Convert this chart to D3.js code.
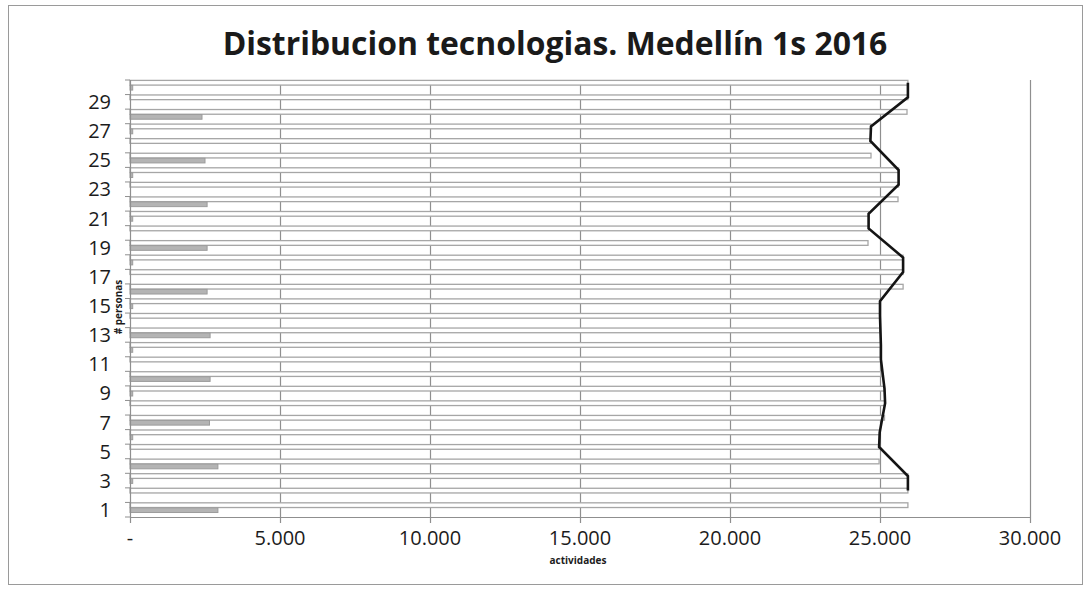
<!DOCTYPE html>
<html>
<head>
<meta charset="utf-8">
<script src="https://cdn.jsdelivr.net/npm/d3@7"></script>
<style>
  html, body { margin: 0; padding: 0; background: #fff; }
  svg { display: block; }
</style>
</head>
<body>
<svg id="chart" width="1088" height="589"></svg>
<script>
// ---------------- data ----------------
const title = "Distribucion tecnologias. Medellín 1s 2016";
const xTitle = "actividades";
const yTitle = "# personas";
const categories = d3.range(1, 31);                 // personas 1..30
// long white bars (total actividades)
const totalValues = [25930, 25930, 25930, 24970, 24970, 24990, 25150, 25170, 25150, 25030,
                     25030, 25030, 25000, 25000, 25000, 25770, 25770, 25770, 24600, 24620,
                     24620, 25600, 25620, 25620, 24700, 24680, 24700, 25900, 25930, 25930];
// short grey bars (tecnologías)
const partialValues = [2930, 0, 90, 2930, 0, 90, 2650, 0, 90, 2670,
                       0, 90, 2670, 0, 90, 2570, 0, 90, 2570, 0,
                       90, 2570, 0, 90, 2500, 0, 90, 2400, 0, 90];
// black line (null = no point)
const lineValues = [null, 25930, 25930, null, 24970, 24990, null, 25170, 25150, null,
                    25030, 25030, null, 25000, 25000, null, 25770, 25770, null, 24620,
                    24620, null, 25620, 25620, null, 24680, 24700, null, 25930, 25930];
const xTicks = [0, 5000, 10000, 15000, 20000, 25000, 30000];
const xTickLabels = ["-", "5.000", "10.000", "15.000", "20.000", "25.000", "30.000"];
const yLabelCats = categories.filter(c => c % 2 === 1);

// ---------------- layout ----------------
const svg = d3.select("#chart");
const W = 1088, H = 589;
const plot = { left: 130, right: 1030, top: 80, bottom: 517 };
const FONT = "'Open Sans', 'Noto Sans', sans-serif";
const textColor = "#1c1c1c";
const gridColor = "#8f8f8f";

// outer chart border
svg.append("rect").attr("x", 8.5).attr("y", 5.5).attr("width", W - 14).attr("height", H - 10)
  .attr("fill", "#fff").attr("stroke", "#9a9a9a").attr("stroke-width", 1);

const x = d3.scaleLinear().domain([0, 30000]).range([plot.left, plot.right]);
const y = d3.scaleBand().domain(categories).range([plot.bottom, plot.top]).padding(0);
const inner = d3.scaleBand().domain(["total", "partial"])
  .range([0, y.bandwidth() * 0.72]).paddingInner(0.06).paddingOuter(0.08);

// vertical gridlines
svg.append("g").selectAll("line").data(xTicks.slice(1)).join("line")
  .attr("x1", d => x(d) + 0.5).attr("x2", d => x(d) + 0.5)
  .attr("y1", plot.top).attr("y2", plot.bottom)
  .attr("stroke", gridColor).attr("stroke-width", 1.2);

// bars
const rows = categories.map((c, i) => ({ c, total: totalValues[i], partial: partialValues[i], line: lineValues[i] }));
svg.append("g").selectAll("rect").data(rows).join("rect")
  .attr("x", x(0)).attr("y", d => y(d.c) + inner("total"))
  .attr("width", d => x(d.total) - x(0)).attr("height", inner.bandwidth())
  .attr("fill", "#ffffff").attr("stroke", "#a6a6a6").attr("stroke-width", 1.3);
svg.append("g").selectAll("rect").data(rows.filter(d => d.partial > 0)).join("rect")
  .attr("x", x(0)).attr("y", d => y(d.c) + inner("partial"))
  .attr("width", d => x(d.partial) - x(0)).attr("height", inner.bandwidth())
  .attr("fill", "#b4b4b4").attr("stroke", "#9c9c9c").attr("stroke-width", 1);

// line
const lineGen = d3.line()
  .x(d => x(d.line))
  .y(d => y(d.c) + inner("total") + inner.bandwidth() / 2);
svg.append("path").datum(rows.filter(d => d.line != null))
  .attr("d", lineGen).attr("fill", "none").attr("stroke", "#141414")
  .attr("stroke-width", 2.6).attr("stroke-linejoin", "miter");

// y axis
svg.append("line").attr("x1", plot.left + 0.5).attr("x2", plot.left + 0.5)
  .attr("y1", plot.top).attr("y2", plot.bottom).attr("stroke", gridColor).attr("stroke-width", 1.2);
const yTickPos = categories.map(c => y(c)).concat([plot.bottom]);
svg.append("g").selectAll("line").data(yTickPos).join("line")
  .attr("x1", plot.left - 5).attr("x2", plot.left).attr("y1", d => d).attr("y2", d => d)
  .attr("stroke", gridColor).attr("stroke-width", 1);
svg.append("g").selectAll("text").data(yLabelCats).join("text")
  .attr("x", 111).attr("y", d => y(d) + y.bandwidth() / 2).attr("dy", "0.36em")
  .attr("text-anchor", "end").attr("font-family", FONT).attr("font-size", 20)
  .attr("fill", textColor).text(d => d);

// x axis
svg.append("line").attr("x1", plot.left).attr("x2", plot.right + 0.5)
  .attr("y1", plot.bottom + 0.5).attr("y2", plot.bottom + 0.5).attr("stroke", gridColor).attr("stroke-width", 1.2);
svg.append("g").selectAll("line").data(xTicks).join("line")
  .attr("x1", d => x(d) + 0.5).attr("x2", d => x(d) + 0.5)
  .attr("y1", plot.bottom).attr("y2", plot.bottom + 6)
  .attr("stroke", gridColor).attr("stroke-width", 1.2);
svg.append("g").selectAll("text").data(xTicks).join("text")
  .attr("x", d => x(d)).attr("y", 545)
  .attr("text-anchor", "middle").attr("font-family", FONT).attr("font-size", 20)
  .attr("fill", textColor).text((d, i) => xTickLabels[i]);

// axis titles
svg.append("text").attr("x", 578).attr("y", 564).attr("text-anchor", "middle")
  .attr("font-family", FONT).attr("font-weight", "bold").attr("font-size", 10)
  .attr("fill", textColor).text(xTitle);
svg.append("text").attr("transform", "translate(122,307) rotate(-90)").attr("text-anchor", "middle")
  .attr("font-family", FONT).attr("font-weight", "bold").attr("font-size", 10)
  .attr("fill", textColor).text(yTitle);

// title, sized to reference width
const t = svg.append("text").attr("x", 555).attr("y", 55).attr("text-anchor", "middle")
  .attr("font-family", FONT).attr("font-weight", "bold").attr("font-size", 30)
  .attr("fill", "#1a1a1a").text(title);
const tw = t.node().getComputedTextLength();
t.attr("font-size", 30 * 665 / tw);
</script>
</body>
</html>
